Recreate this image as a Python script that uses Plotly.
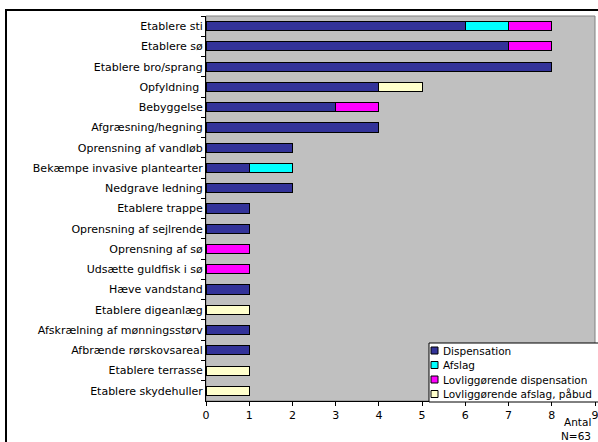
import plotly.graph_objects as go

categories = ["Etablere sti", "Etablere sø", "Etablere bro/sprang", "Opfyldning ", "Bebyggelse",
              "Afgræsning/hegning", "Oprensning af vandløb", "Bekæmpe invasive plantearter",
              "Nedgrave ledning", "Etablere trappe", "Oprensning af sejlrende", "Oprensning af sø",
              "Udsætte guldfisk i sø", "Hæve vandstand", "Etablere digeanlæg",
              "Afskrælning af mønningsstørv", "Afbrænde rørskovsareal", "Etablere terrasse",
              "Etablere skydehuller"]
dispensation = [6, 7, 8, 4, 3, 4, 2, 1, 2, 1, 1, 0, 0, 1, 0, 1, 1, 0, 0]
afslag       = [1, 0, 0, 0, 0, 0, 0, 1, 0, 0, 0, 0, 0, 0, 0, 0, 0, 0, 0]
lovl_disp    = [1, 1, 0, 0, 1, 0, 0, 0, 0, 0, 0, 1, 1, 0, 0, 0, 0, 0, 0]
lovl_afslag  = [0, 0, 0, 1, 0, 0, 0, 0, 0, 0, 0, 0, 0, 0, 1, 0, 0, 1, 1]
series_names = ["Dispensation", "Afslag", "Lovliggørende dispensation", "Lovliggørende afslag, påbud"]
series_colors = ["#333399", "#00FFFF", "#FF00FF", "#FFFFCC"]
x_ticks = list(range(0, 10))
axis_title_lines = ["Antal", "N=63"]

series_values = [dispensation, afslag, lovl_disp, lovl_afslag]

fig = go.Figure()
for name, vals, col in zip(series_names, series_values, series_colors):
    fig.add_trace(go.Bar(
        y=categories, x=vals, name=name, orientation="h",
        marker=dict(color=col, line=dict(color="black", width=1)),
    ))

W, H = 598, 442
L, R, T, B = 206, 3, 16, 41
pw, ph = W - L - R, H - T - B


def px(xp):
    return (xp - L) / pw


def py(yp):
    return (H - B - yp) / ph


fig.update_layout(
    width=W, height=H,
    margin=dict(l=L, r=R, t=T, b=B, pad=0, autoexpand=False),
    barmode="stack", bargap=0.55,
    paper_bgcolor="white", plot_bgcolor="#C0C0C0",
    font=dict(family="DejaVu Sans", size=11, color="black"),
    showlegend=False,
    xaxis=dict(
        range=[0, 9], tickvals=x_ticks, ticks="outside", ticklen=4,
        showgrid=False, zeroline=False, showline=True, linecolor="black",
        tickcolor="black", mirror=False, ticklabeloverflow="allow", automargin=False,
    ),
    yaxis=dict(
        type="category", categoryorder="array", categoryarray=categories,
        autorange="reversed", ticks="outside", tickson="boundaries", ticklen=4,
        showgrid=False, showline=True, linecolor="black", tickcolor="black",
        automargin=False,
    ),
)

# plot area border (grey)
fig.add_shape(type="rect", xref="paper", yref="paper", x0=0, x1=1, y0=0, y1=1,
              line=dict(color="#808080", width=1), fillcolor="rgba(0,0,0,0)", layer="below")
# outer chart border
fig.add_shape(type="rect", xref="paper", yref="paper",
              x0=px(6), x1=px(W + 5), y0=py(H + 5), y1=py(10),
              line=dict(color="black", width=2), fillcolor="rgba(0,0,0,0)")

# legend box (Excel style)
fig.add_shape(type="rect", xref="paper", yref="paper",
              x0=px(429), x1=px(600), y0=py(402), y1=py(343),
              line=dict(color="black", width=1), fillcolor="white")
for i, (name, col) in enumerate(zip(series_names, series_colors)):
    cy = 350.5 + 14.5 * i
    fig.add_shape(type="rect", xref="paper", yref="paper",
                  x0=px(431), x1=px(438), y0=py(cy + 3.5), y1=py(cy - 3.5),
                  line=dict(color="black", width=1), fillcolor=col)
    fig.add_annotation(text=name, xref="paper", yref="paper",
                       x=px(441), y=py(cy), xanchor="left", yanchor="middle",
                       showarrow=False, font=dict(size=10.5))

# axis title, two right-aligned lines
for j, line in enumerate(axis_title_lines):
    fig.add_annotation(text=line, xref="paper", yref="paper",
                       x=px(592), y=py(422 + 13.5 * j), xanchor="right", yanchor="middle",
                       showarrow=False, font=dict(size=10.5), borderpad=0)

fig.write_html("out.html", config={"displayModeBar": False},
               post_script="document.body.style.margin='0px';")
